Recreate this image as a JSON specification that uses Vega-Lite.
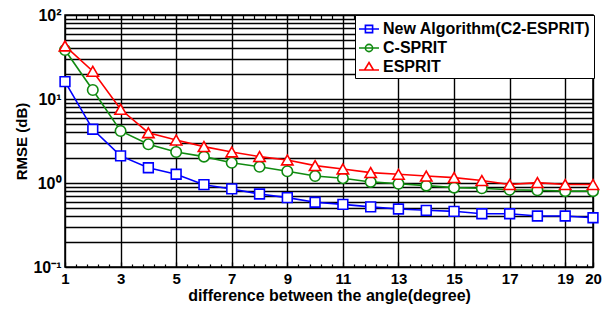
{
  "$schema": "https://vega.github.io/schema/vega-lite/v6.json",
  "width": 528,
  "height": 252,
  "autosize": {"type": "none"},
  "padding": {"left": 65, "top": 15, "right": 21, "bottom": 43},
  "background": "white",
  "config": {
    "view": {"stroke": "black", "strokeWidth": 1.5},
    "font": "Liberation Sans"
  },
  "data": {
    "values": [
      {"x": 1, "series": "New Algorithm(C2-ESPRIT)", "rmse": 16.1},
      {"x": 2, "series": "New Algorithm(C2-ESPRIT)", "rmse": 4.36},
      {"x": 3, "series": "New Algorithm(C2-ESPRIT)", "rmse": 2.1},
      {"x": 4, "series": "New Algorithm(C2-ESPRIT)", "rmse": 1.52},
      {"x": 5, "series": "New Algorithm(C2-ESPRIT)", "rmse": 1.27},
      {"x": 6, "series": "New Algorithm(C2-ESPRIT)", "rmse": 0.955},
      {"x": 7, "series": "New Algorithm(C2-ESPRIT)", "rmse": 0.85},
      {"x": 8, "series": "New Algorithm(C2-ESPRIT)", "rmse": 0.74},
      {"x": 9, "series": "New Algorithm(C2-ESPRIT)", "rmse": 0.67},
      {"x": 10, "series": "New Algorithm(C2-ESPRIT)", "rmse": 0.59},
      {"x": 11, "series": "New Algorithm(C2-ESPRIT)", "rmse": 0.557},
      {"x": 12, "series": "New Algorithm(C2-ESPRIT)", "rmse": 0.52},
      {"x": 13, "series": "New Algorithm(C2-ESPRIT)", "rmse": 0.49},
      {"x": 14, "series": "New Algorithm(C2-ESPRIT)", "rmse": 0.473},
      {"x": 15, "series": "New Algorithm(C2-ESPRIT)", "rmse": 0.46},
      {"x": 16, "series": "New Algorithm(C2-ESPRIT)", "rmse": 0.43},
      {"x": 17, "series": "New Algorithm(C2-ESPRIT)", "rmse": 0.43},
      {"x": 18, "series": "New Algorithm(C2-ESPRIT)", "rmse": 0.405},
      {"x": 19, "series": "New Algorithm(C2-ESPRIT)", "rmse": 0.405},
      {"x": 20, "series": "New Algorithm(C2-ESPRIT)", "rmse": 0.386},
      {"x": 1, "series": "C-SPRIT", "rmse": 38.3},
      {"x": 2, "series": "C-SPRIT", "rmse": 12.8},
      {"x": 3, "series": "C-SPRIT", "rmse": 4.16},
      {"x": 4, "series": "C-SPRIT", "rmse": 2.89},
      {"x": 5, "series": "C-SPRIT", "rmse": 2.34},
      {"x": 6, "series": "C-SPRIT", "rmse": 2.06},
      {"x": 7, "series": "C-SPRIT", "rmse": 1.74},
      {"x": 8, "series": "C-SPRIT", "rmse": 1.56},
      {"x": 9, "series": "C-SPRIT", "rmse": 1.38},
      {"x": 10, "series": "C-SPRIT", "rmse": 1.21},
      {"x": 11, "series": "C-SPRIT", "rmse": 1.14},
      {"x": 12, "series": "C-SPRIT", "rmse": 1.03},
      {"x": 13, "series": "C-SPRIT", "rmse": 0.98},
      {"x": 14, "series": "C-SPRIT", "rmse": 0.93},
      {"x": 15, "series": "C-SPRIT", "rmse": 0.88},
      {"x": 16, "series": "C-SPRIT", "rmse": 0.865},
      {"x": 17, "series": "C-SPRIT", "rmse": 0.83},
      {"x": 18, "series": "C-SPRIT", "rmse": 0.82},
      {"x": 19, "series": "C-SPRIT", "rmse": 0.8},
      {"x": 20, "series": "C-SPRIT", "rmse": 0.8},
      {"x": 1, "series": "ESPRIT", "rmse": 42.8},
      {"x": 2, "series": "ESPRIT", "rmse": 21.4},
      {"x": 3, "series": "ESPRIT", "rmse": 7.54},
      {"x": 4, "series": "ESPRIT", "rmse": 3.97},
      {"x": 5, "series": "ESPRIT", "rmse": 3.25},
      {"x": 6, "series": "ESPRIT", "rmse": 2.71},
      {"x": 7, "series": "ESPRIT", "rmse": 2.34},
      {"x": 8, "series": "ESPRIT", "rmse": 2.06},
      {"x": 9, "series": "ESPRIT", "rmse": 1.88},
      {"x": 10, "series": "ESPRIT", "rmse": 1.61},
      {"x": 11, "series": "ESPRIT", "rmse": 1.47},
      {"x": 12, "series": "ESPRIT", "rmse": 1.33},
      {"x": 13, "series": "ESPRIT", "rmse": 1.27},
      {"x": 14, "series": "ESPRIT", "rmse": 1.21},
      {"x": 15, "series": "ESPRIT", "rmse": 1.16},
      {"x": 16, "series": "ESPRIT", "rmse": 1.07},
      {"x": 17, "series": "ESPRIT", "rmse": 0.96},
      {"x": 18, "series": "ESPRIT", "rmse": 1.01},
      {"x": 19, "series": "ESPRIT", "rmse": 0.96},
      {"x": 20, "series": "ESPRIT", "rmse": 0.96}
    ]
  },
  "layer": [
    {
      "mark": {"type": "line", "strokeWidth": 1.6, "clip": true},
      "encoding": {
        "x": {
          "field": "x", "type": "quantitative",
          "scale": {"domain": [1, 20], "nice": false, "zero": false},
          "axis": {
            "orient": "bottom",
            "values": [1, 3, 5, 7, 9, 11, 13, 15, 17, 19, 20],
            "grid": true, "gridColor": "black", "gridWidth": 1.4, "gridOpacity": 1,
            "ticks": true, "tickSize": -5, "tickColor": "black", "tickWidth": 1.3, "domain": false,
            "labelFont": "Liberation Sans", "labelFontWeight": "bold", "labelFontSize": 15, "labelColor": "black",
            "labelPadding": 9, "labelFlush": false,
            "title": "difference between the angle(degree)",
            "titleFont": "Liberation Sans", "titleFontWeight": "bold", "titleFontSize": 16, "titleColor": "black",
            "titlePadding": 1
          }
        },
        "y": {
          "field": "rmse", "type": "quantitative",
          "scale": {"type": "log", "domain": [0.1, 100], "nice": false},
          "axis": {
            "orient": "left",
            "values": [0.1, 0.2, 0.3, 0.4, 0.5, 0.6, 0.7, 0.8, 0.9, 1, 2, 3, 4, 5, 6, 7, 8, 9, 10, 20, 30, 40, 50, 60, 70, 80, 90, 100],
            "labelExpr": "datum.value == 100 ? '10²' : datum.value == 10 ? '10¹' : datum.value == 1 ? '10⁰' : abs(datum.value - 0.1) < 1e-9 ? '10⁻¹' : ''",
            "grid": true, "gridColor": "black", "gridWidth": 1.6, "gridOpacity": 1,
            "ticks": false, "domain": false,
            "labelFont": "Liberation Sans", "labelFontWeight": "bold", "labelFontSize": 16, "labelColor": "black",
            "labelPadding": 4, "labelFlush": false, "labelOverlap": false,
            "title": "RMSE (dB)",
            "titleFont": "Liberation Sans", "titleFontWeight": "bold", "titleFontSize": 15, "titleColor": "black",
            "titlePadding": 3
          }
        },
        "color": {
          "field": "series", "type": "nominal",
          "scale": {
            "domain": ["New Algorithm(C2-ESPRIT)", "C-SPRIT", "ESPRIT"],
            "range": ["#0000ff", "#108a10", "#ff0000"]
          },
          "legend": {
            "orient": "none", "legendX": 290, "legendY": 0,
            "title": null,
            "strokeColor": "black", "fillColor": "white", "padding": 3,
            "labelFont": "Liberation Sans", "labelFontWeight": "bold", "labelFontSize": 16, "labelColor": "black",
            "labelOffset": 3, "labelLimit": 300,
            "symbolSize": 400, "symbolStrokeWidth": 1.6, "rowPadding": 0,
            "encode": {
              "symbols": {
                "update": {
                  "shape": {"signal": "datum.value == 'ESPRIT' ? 'M-1,0.3H1M0,-0.45L0.45,0.3H-0.45Z' : datum.value == 'C-SPRIT' ? 'M-1,0H1M0.36,0A0.36,0.36 0 1,1 -0.36,0A0.36,0.36 0 1,1 0.36,0Z' : 'M-1,0H1M-0.36,-0.36H0.36V0.36H-0.36Z'"},
                  "fill": {"value": "white"},
                  "fillOpacity": {"value": 1}
                }
              }
            }
          }
        }
      }
    },
    {
      "transform": [{"filter": "datum.series == 'New Algorithm(C2-ESPRIT)'"}],
      "mark": {"type": "point", "shape": "square", "filled": false, "fill": "white", "fillOpacity": 1, "strokeWidth": 1.6, "size": 95, "opacity": 1},
      "encoding": {
        "x": {
          "field": "x", "type": "quantitative",
          "axis": {
            "orient": "top",
            "values": [1.4, 1.8, 2.2, 2.6, 3, 3.4, 3.8, 4.2, 4.6, 5, 5.4, 5.8, 6.2, 6.6, 7, 7.4, 7.8, 8.2, 8.6, 9, 9.4, 9.8, 10.2, 10.6, 11, 11.4, 11.8, 12.2, 12.6, 13, 13.4, 13.8, 14.2, 14.6, 15, 15.4, 15.8, 16.2, 16.6, 17, 17.4, 17.8, 18.2, 18.6, 19, 19.4, 19.8],
            "labels": false, "grid": false, "domain": false,
            "ticks": true, "tickSize": -4, "tickColor": "black", "tickWidth": 1.2, "title": null
          }
        },
        "y": {"field": "rmse", "type": "quantitative", "axis": null},
        "color": {"field": "series", "type": "nominal", "legend": null}
      }
    },
    {
      "transform": [{"filter": "datum.series == 'C-SPRIT'"}],
      "mark": {"type": "point", "shape": "circle", "filled": false, "fill": "white", "fillOpacity": 1, "strokeWidth": 1.6, "size": 110, "opacity": 1},
      "encoding": {
        "x": {
          "field": "x", "type": "quantitative",
          "axis": {
            "orient": "bottom",
            "values": [1.4, 1.8, 2.2, 2.6, 3.4, 3.8, 4.2, 4.6, 5.4, 5.8, 6.2, 6.6, 7.4, 7.8, 8.2, 8.6, 9.4, 9.8, 10.2, 10.6, 11.4, 11.8, 12.2, 12.6, 13.4, 13.8, 14.2, 14.6, 15.4, 15.8, 16.2, 16.6, 17.4, 17.8, 18.2, 18.6, 19.4, 19.8],
            "labels": false, "grid": false, "domain": false,
            "ticks": true, "tickSize": -3, "tickColor": "black", "tickWidth": 1.2, "title": null
          }
        },
        "y": {"field": "rmse", "type": "quantitative", "axis": null},
        "color": {"field": "series", "type": "nominal", "legend": null}
      }
    },
    {
      "transform": [{"filter": "datum.series == 'ESPRIT'"}],
      "mark": {"type": "point", "shape": "triangle-up", "filled": false, "fill": "white", "fillOpacity": 1, "strokeWidth": 1.6, "size": 130, "opacity": 1},
      "encoding": {
        "x": {"field": "x", "type": "quantitative", "axis": null},
        "y": {"field": "rmse", "type": "quantitative", "axis": null},
        "color": {"field": "series", "type": "nominal", "legend": null}
      }
    }
  ],
  "resolve": {"axis": {"x": "independent", "y": "independent"}}
}
